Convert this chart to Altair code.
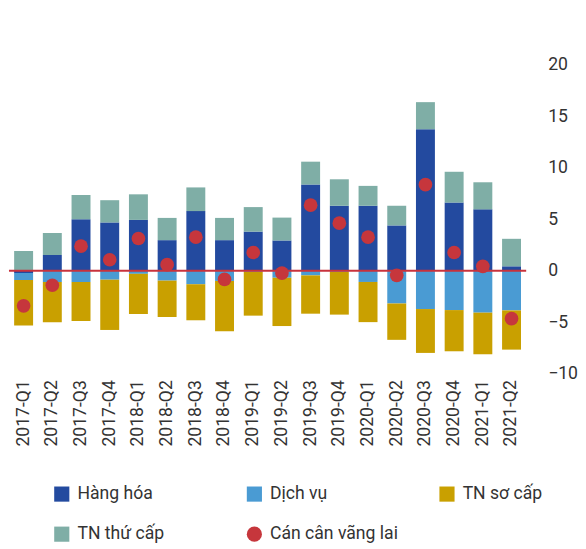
import altair as alt
import pandas as pd

quarters = ["2017-Q1", "2017-Q2", "2017-Q3", "2017-Q4",
            "2018-Q1", "2018-Q2", "2018-Q3", "2018-Q4",
            "2019-Q1", "2019-Q2", "2019-Q3", "2019-Q4",
            "2020-Q1", "2020-Q2", "2020-Q3", "2020-Q4",
            "2021-Q1", "2021-Q2"]
goods = [-0.2, 1.55, 5.0, 4.7, 4.95, 2.98, 5.8, 2.98, 3.81, 2.95, 8.38, 6.32, 6.32, 4.41, 13.75, 6.63, 5.97, 0.44]
services = [-0.7, -1.08, -1.08, -0.86, -0.29, -0.95, -1.3, -0.98, -0.1, -0.67, -0.44, -0.1, -1.08, -3.17, -3.71, -3.81, -4.06, -3.84]
primary = [-4.4, -3.9, -3.8, -4.88, -3.9, -3.53, -3.5, -4.89, -4.25, -4.69, -3.72, -4.15, -3.9, -3.53, -4.26, -4.0, -4.04, -3.81]
secondary = [1.93, 2.13, 2.37, 2.16, 2.48, 2.16, 2.3, 2.16, 2.38, 2.22, 2.22, 2.57, 1.93, 1.91, 2.63, 2.99, 2.63, 2.67]
current = [-3.4, -1.4, 2.4, 1.08, 3.14, 0.6, 3.27, -0.83, 1.78, -0.22, 6.38, 4.63, 3.27, -0.44, 8.38, 1.78, 0.44, -4.64]

series_names = ["Hàng hóa", "Dịch vụ", "TN sơ cấp", "TN thứ cấp"]
series_colors = ["#234a9f", "#4a9bd3", "#c9a000", "#7faea6"]
ca_name = "Cán cân vãng lai"
ca_color = "#c6363c"
y_ticks = [-10, -5, 0, 5, 10, 15, 20]

rows = []
for i, q in enumerate(quarters):
    for k, (name, vals) in enumerate(zip(series_names, [goods, services, primary, secondary])):
        rows.append({"q": q, "series": name, "v": vals[i], "ord": k})
bars_df = pd.DataFrame(rows)
ca_df = pd.DataFrame({"q": quarters, "series": [ca_name] * len(quarters), "v": current})
zero_df = pd.DataFrame({"v": [0]})

domain = series_names + [ca_name]
rng = series_colors + [ca_color]
shapes = ["square", "square", "square", "square", "circle"]
color_scale = alt.Scale(domain=domain, range=rng)
shape_scale = alt.Scale(domain=domain, range=shapes)

legend = alt.Legend(
    title=None, orient="none", legendX=45, legendY=430, columns=3, direction="horizontal",
    gridAlign="all", columnPadding=41, rowPadding=23,
    labelFontSize=18, labelColor="#333333", labelFont="Roboto",
    symbolSize=240, labelOffset=7,
    symbolOpacity=1, symbolStrokeWidth=0, padding=0,
)

x_enc = alt.X("q:N", sort=quarters,
              scale=alt.Scale(paddingInner=0.34, paddingOuter=0.18),
              axis=alt.Axis(title=None, labelAngle=-90, labelFontSize=18, labelPadding=6,
                            domain=False, ticks=False, labelColor="#333333"))
y_enc = alt.Y("v:Q", stack="zero",
              scale=alt.Scale(domain=[-10, 20], nice=False),
              axis=alt.Axis(orient="right", values=y_ticks, grid=False, domain=False, ticks=False,
                            labelPadding=22, labelFontSize=18, title=None, labelAlign="left",
                            labelColor="#333333"))

bars = alt.Chart(bars_df).mark_bar().encode(
    x=x_enc,
    y=y_enc,
    color=alt.Color("series:N", scale=color_scale, legend=legend),
    order=alt.Order("ord:Q", sort="ascending"),
)

zero = alt.Chart(zero_df).mark_rule(color="#c8323c", strokeWidth=2).encode(y="v:Q")

points = alt.Chart(ca_df).mark_point(filled=True, opacity=1, size=196).encode(
    x=alt.X("q:N", sort=quarters),
    y=alt.Y("v:Q"),
    color=alt.Color("series:N", scale=color_scale, legend=legend),
    shape=alt.Shape("series:N", scale=shape_scale, legend=legend),
)

chart = alt.layer(bars, zero, points).properties(
    width=529, height=316,
    padding={"left": 0, "top": 43, "right": 0, "bottom": 0},
).configure(font="Roboto").configure_view(stroke=None)

chart.save("out.html", embed_options={"renderer": "svg", "actions": False})
